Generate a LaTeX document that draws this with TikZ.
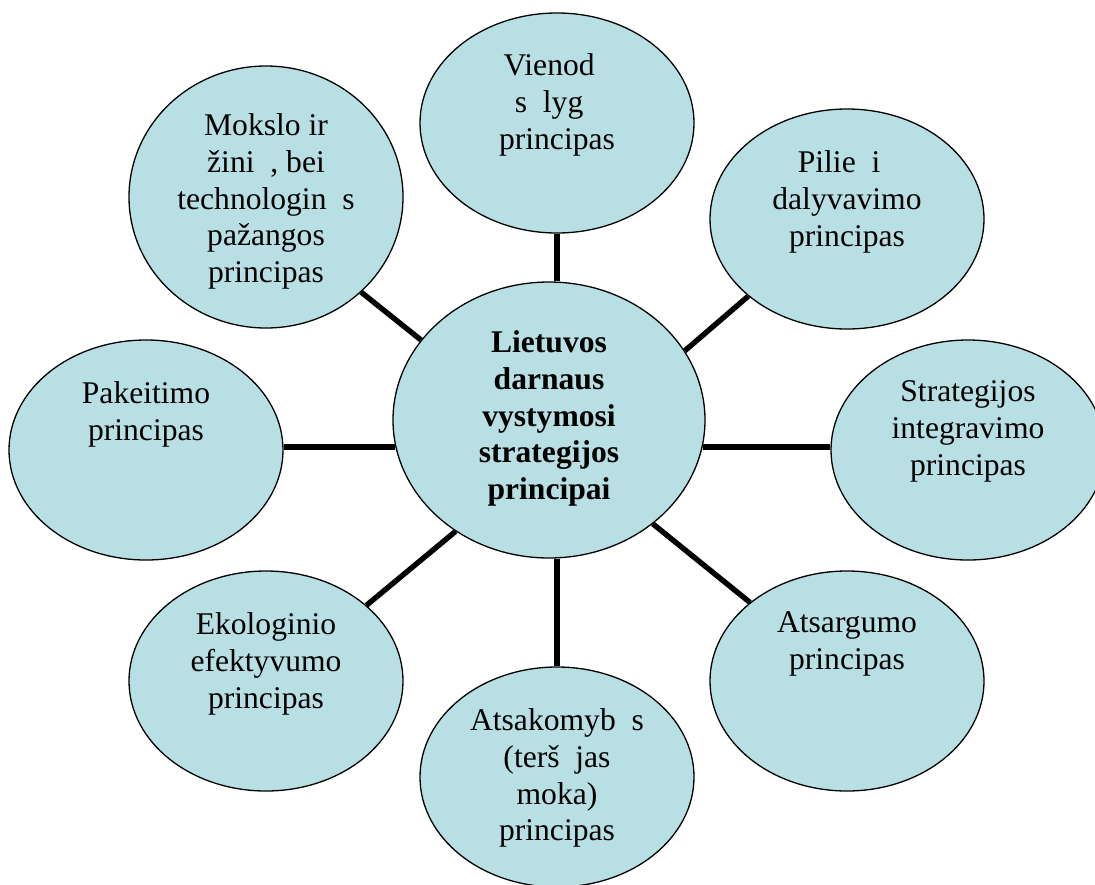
\documentclass[tikz,border=0pt]{standalone}
\usepackage{fontspec}
\setmainfont{Liberation Serif}
\usetikzlibrary{shapes.geometric,backgrounds}
\definecolor{bubble}{RGB}{184,223,227}
\tikzset{
  bub/.style={ellipse, draw=black, line width=1.3pt, fill=bubble, inner sep=0pt,
              minimum width=274pt, minimum height=220pt},
  lbl/.style={anchor=north, inner sep=0pt, align=center,
              font=\fontsize{31.6}{36.7}\selectfont},
  conn/.style={line width=5.4pt, draw=black}
}
\newcommand{\gp}{\phantom{u}}
\begin{document}
\begin{tikzpicture}[x=1pt,y=-1pt]
\useasboundingbox (0,0) rectangle (1095,884);
\clip (0,0) rectangle (1095,884);
% bubbles
\node[bub, minimum width=312pt, minimum height=276pt] (c) at (549,420) {};
\node[bub] (vien) at (557,123) {};
\node[bub] (pil) at (847,219) {};
\node[bub] (str) at (968,450) {};
\node[bub] (ats) at (847,681) {};
\node[bub] (atsak) at (557,777) {};
\node[bub] (eko) at (266,681) {};
\node[bub] (pak) at (146,450) {};
\node[bub, minimum height=262pt] (mok) at (266,197) {};
% texts
\node[lbl, font=\fontsize{31.6}{36.7}\selectfont\bfseries] (tc) at (549,330.5)
  {Lietuvos\\darnaus\\vystymosi\\strategijos\\principai};
\node[lbl] (tvien) at (557,53.5) {Vienod\gp\\s\gp lyg\gp\\principas};
\node[lbl] (tpil) at (847,150.5) {Pilie\gp i\gp\\dalyvavimo\\principas};
\node[lbl] (tstr) at (968,380.5) {Strategijos\\integravimo\\principas};
\node[lbl] (tats) at (847,611.5) {Atsargumo\\principas};
\node[lbl] (tatsak) at (557,708.5) {Atsakomyb\gp s\\(terš\gp jas\\moka)\\principas};
\node[lbl] (teko) at (266,612.5) {Ekologinio\\efektyvumo\\principas};
\node[lbl] (tpak) at (146,381.5) {Pakeitimo\\principas};
\node[lbl] (tmok) at (266,113.5) {Mokslo ir\\žini\gp, bei\\technologin\gp s\\pažangos\\principas};
% connectors
\begin{pgfonlayer}{background}
\draw[conn] (vien.south) -- (vien.south |- c.north);
\draw[conn] (pil.218.1) -- (c.27.4);
\draw[conn] (c.-10.7) -- (c.-10.7 -| str.west);
\draw[conn] (ats.141.6) -- (c.-45.8);
\draw[conn] (atsak.north) -- (atsak.north |- c.south);
\draw[conn] (eko.37.9) -- (c.230.3);
\draw[conn] (c.190.8) -- (c.190.8 -| pak.east);
\draw[conn] (mok.-45.3) -- (c.148.6);
\end{pgfonlayer}
\end{tikzpicture}
\end{document}
